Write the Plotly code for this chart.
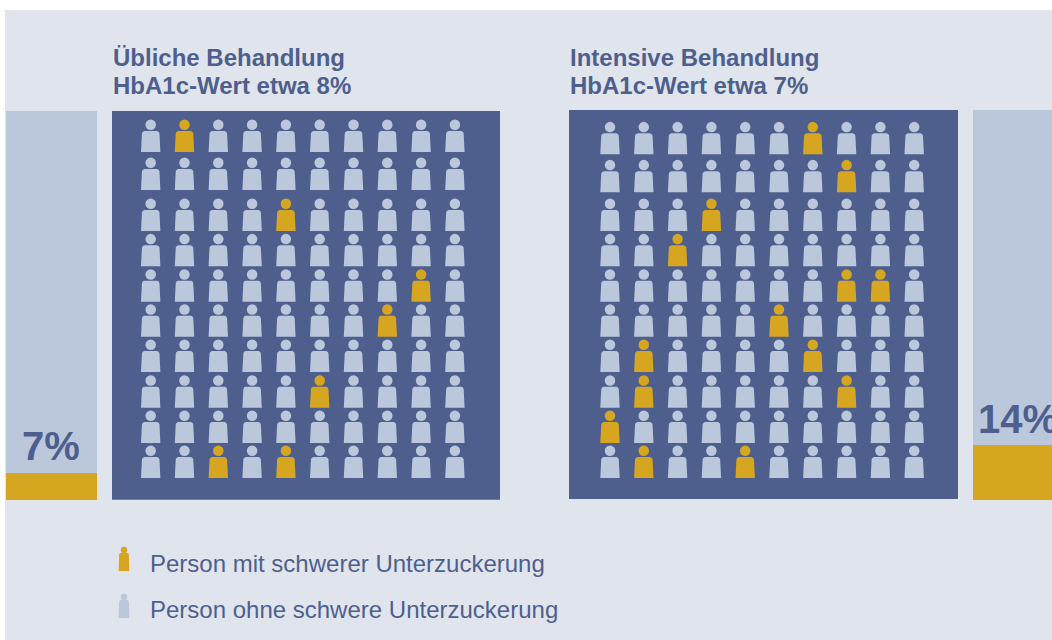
import math
import plotly.graph_objects as go

W, H = 1052, 640
# ---- data ----
PCT_USUAL = [7]
PCT_INTENSIVE = [14]
N_ROWS = 10
N_COLS = 10
USUAL_ROWS = [0, 2, 4, 5, 7, 9, 9]
USUAL_COLS = [1, 4, 8, 7, 5, 2, 4]
INTENSIVE_ROWS = [0, 1, 2, 3, 4, 4, 5, 6, 6, 7, 7, 8, 9, 9]
INTENSIVE_COLS = [6, 7, 3, 2, 7, 8, 5, 1, 6, 1, 7, 0, 1, 4]
TITLES_USUAL = ["Übliche Behandlung", "HbA1c-Wert etwa 8%"]
TITLES_INTENSIVE = ["Intensive Behandlung", "HbA1c-Wert etwa 7%"]
LEGEND_LABELS = ["Person mit schwerer Unterzuckerung", "Person ohne schwere Unterzuckerung"]

# ---- layout constants (pixels) ----
DARK, LIGHT, GOLD, BG = "#4E5F8E", "#BBC8DB", "#D6A621", "#E0E5ED"
FONT = "Liberation Sans, Arial, sans-serif"
STEP = 33.8
ROWS1 = [152, 190, 231, 266.3, 301.7, 336.7, 372, 407.7, 443, 478]
ROWS2 = [154.3, 192.3, 231, 266.3, 301.7, 336.7, 372, 407.7, 443, 478]


def body(cx, by, bw=9.7, tw=8.8, h=21, r=3.0):
    """Rounded-shoulder trapezoid outline for one person."""
    xs, ys = [cx - bw], [by]
    for a in range(0, 91, 15):
        t = math.radians(a)
        xs.append(cx - tw + r - r * math.cos(t))
        ys.append(by - h + r - r * math.sin(t))
    for a in range(90, -1, -15):
        t = math.radians(a)
        xs.append(cx + tw - r + r * math.cos(t))
        ys.append(by - h + r - r * math.sin(t))
    xs += [cx + bw, cx - bw, None]
    ys += [by, by, None]
    return xs, ys


def add_people(fig, xa, ya, cells, color, row_px, x0, head_size=10.5):
    bx, by, hx, hy = [], [], [], []
    for r, c in cells:
        cx = x0 + c * STEP
        b = row_px[r]
        xs, ys = body(cx, b)
        bx += xs
        by += ys
        hx.append(cx)
        hy.append(b - 27.2)
    fig.add_trace(go.Scatter(x=bx, y=by, mode="lines", fill="toself", fillcolor=color,
                             line=dict(width=0, color=color, simplify=False), hoverinfo="skip",
                             xaxis=xa, yaxis=ya, showlegend=False))
    fig.add_trace(go.Scatter(x=hx, y=hy, mode="markers", hoverinfo="skip",
                             marker=dict(size=head_size, color=color, line=dict(width=0)),
                             xaxis=xa, yaxis=ya, showlegend=False))


fig = go.Figure()

# stacked bars
for xa, ya, pct in (("x", "y", PCT_USUAL), ("x4", "y4", PCT_INTENSIVE)):
    fig.add_trace(go.Bar(x=[0], y=pct, marker=dict(color=GOLD, line=dict(width=0)),
                         xaxis=xa, yaxis=ya, showlegend=False, hoverinfo="skip"))
    fig.add_trace(go.Bar(x=[0], y=[100 - pct[0]], marker=dict(color=LIGHT, line=dict(width=0)),
                         xaxis=xa, yaxis=ya, showlegend=False, hoverinfo="skip"))

# waffles (axes in pixel units of the whole picture, so the grid stays easy to compare)
for xa, ya, rows, cols, row_px, x0 in (
    ("x2", "y2", USUAL_ROWS, USUAL_COLS, ROWS1, 150.7),
    ("x3", "y3", INTENSIVE_ROWS, INTENSIVE_COLS, ROWS2, 610.0),
):
    gold = set(zip(rows, cols))
    all_cells = [(r, c) for r in range(N_ROWS) for c in range(N_COLS)]
    add_people(fig, xa, ya, [k for k in all_cells if k not in gold], LIGHT, row_px, x0)
    add_people(fig, xa, ya, sorted(gold), GOLD, row_px, x0)


def legend_icon(color, by):
    cx = 124.0
    xs, ys = body(cx, by, bw=5.3, tw=4.9, h=18, r=2)
    fig.add_trace(go.Scatter(x=xs, y=ys, mode="lines", fill="toself", fillcolor=color,
                             line=dict(width=0, color=color, simplify=False), hoverinfo="skip",
                             xaxis="x5", yaxis="y5", showlegend=False))
    fig.add_trace(go.Scatter(x=[cx], y=[by - 21], mode="markers", hoverinfo="skip",
                             marker=dict(size=6.5, color=color, line=dict(width=0)),
                             xaxis="x5", yaxis="y5", showlegend=False))


legend_icon(GOLD, 571)
legend_icon(LIGHT, 618)


def ax(domain, rng, anchor):
    return dict(domain=domain, range=rng, anchor=anchor, visible=False, fixedrange=True)


def xd(a, b):
    return [a / W, b / W]


def yd(top, bottom):
    return [1 - bottom / H, 1 - top / H]


fig.update_layout(
    width=W, height=H, margin=dict(l=0, r=0, t=0, b=0), autosize=False,
    paper_bgcolor="white", plot_bgcolor="rgba(0,0,0,0)",
    barmode="stack", bargap=0, showlegend=False,
    xaxis=ax(xd(6, 97), [-0.5, 0.5], "y"),
    yaxis=ax(yd(111, 500), [0, 100], "x"),
    xaxis2=ax(xd(112, 500), [112, 500], "y2"),
    yaxis2=ax(yd(111, 499.7), [499.7, 111], "x2"),
    xaxis3=ax(xd(569, 958), [569, 958], "y3"),
    yaxis3=ax(yd(110, 499), [499, 110], "x3"),
    xaxis4=ax(xd(973, 1052), [-0.5, -0.5 + 79 / 91], "y4"),
    yaxis4=ax(yd(110, 500), [0, 100], "x4"),
    xaxis5=ax(xd(100, 150), [100, 150], "y5"),
    yaxis5=ax(yd(540, 630), [630, 540], "x5"),
    shapes=[
        dict(type="rect", xref="paper", yref="paper", x0=5 / W, x1=1, y0=0, y1=1 - 10 / H,
             fillcolor=BG, line=dict(width=0), layer="below"),
        dict(type="rect", xref="x2 domain", yref="y2 domain", x0=0, x1=1, y0=0, y1=1,
             fillcolor=DARK, line=dict(width=0), layer="below"),
        dict(type="rect", xref="x3 domain", yref="y3 domain", x0=0, x1=1, y0=0, y1=1,
             fillcolor=DARK, line=dict(width=0), layer="below"),
    ],
)


def label(text, x, baseline, size, bold=False, anchor="left"):
    # vertical centre of the text box relative to its baseline
    mid = baseline - size * 0.34
    fig.add_annotation(text=f"<b>{text}</b>" if bold else text, xref="paper", yref="paper",
                       x=x / W, y=1 - mid / H, xanchor=anchor, yanchor="middle", showarrow=False,
                       font=dict(family=FONT, size=size, color=DARK), borderpad=0, align="left")


label(TITLES_USUAL[0], 112, 66, 24, True)
label(TITLES_USUAL[1], 112, 94, 24, True)
label(TITLES_INTENSIVE[0], 569, 66, 24, True)
label(TITLES_INTENSIVE[1], 569, 94, 24, True)
label(f"{PCT_USUAL[0]}%", 51, 459.5, 40, True, "center")
label(f"{PCT_INTENSIVE[0]}%", 977, 433, 40, True)
label(LEGEND_LABELS[0], 148.5, 572, 24)
label(LEGEND_LABELS[1], 148.5, 618, 24)

fig.write_html("out.html", config=dict(displayModeBar=False),
               post_script="document.body.style.margin='0';document.body.style.overflow='hidden';")
